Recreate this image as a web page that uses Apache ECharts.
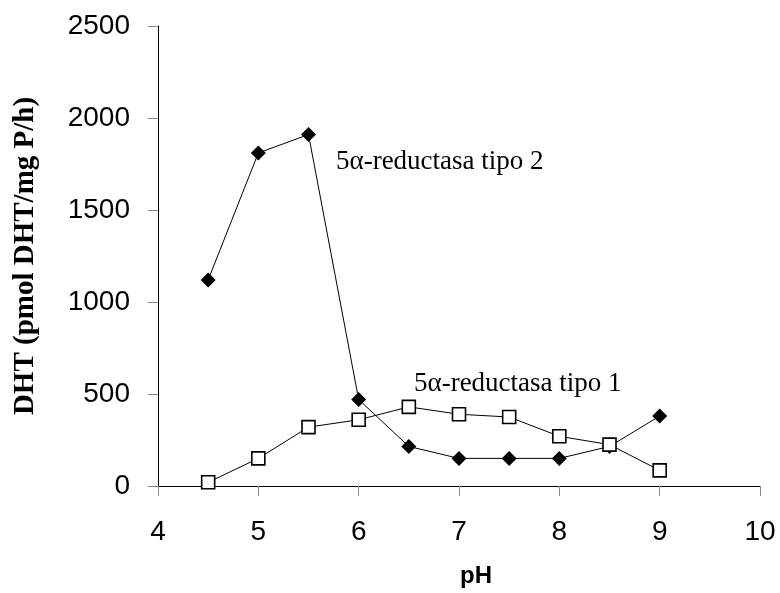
<!DOCTYPE html>
<html>
<head>
<meta charset="utf-8">
<script src="https://cdn.jsdelivr.net/npm/echarts@6/dist/echarts.min.js"></script>
<style>
  html, body { margin: 0; padding: 0; background: #fff; }
  #main { width: 780px; height: 593px; }
</style>
</head>
<body>
<div id="main"></div>
<script>
// pH values sampled
var phValues = [4.5, 5, 5.5, 6, 6.5, 7, 7.5, 8, 8.5, 9];
// DHT, pmol DHT/mg P/h
var tipo1 = [20, 150, 320, 360, 430, 390, 375, 270, 225, 85];
var tipo2 = [1120, 1810, 1910, 470, 215, 150, 150, 150, 215, 380];
var xTicks = [4, 5, 6, 7, 8, 9, 10];
var yTicks = [0, 500, 1000, 1500, 2000, 2500];

function pairs(ys) {
	return phValues.map(function (x, i) { return [x, ys[i]]; });
}

var myChart = echarts.init(document.getElementById('main'));

var option = {
	backgroundColor: '#fff',
	animation: false,
	grid: { left: 158, right: 20, top: 26, bottom: 104 },
	xAxis: {
		type: 'value',
		min: xTicks[0],
		max: xTicks[xTicks.length - 1],
		interval: 1,
		name: 'pH',
		nameLocation: 'middle',
		nameGap: 78,
		nameTextStyle: {
			fontFamily: 'Liberation Sans', fontSize: 24, fontWeight: 'bold', color: '#000',
			padding: [0, 0, 0, 34]
		},
		splitLine: { show: false },
		axisLine: { lineStyle: { color: '#000', width: 1 } },
		axisTick: { length: 10, lineStyle: { color: '#888' } },
		axisLabel: { margin: 32, fontFamily: 'Liberation Sans', fontSize: 28, color: '#000' }
	},
	yAxis: {
		type: 'value',
		min: yTicks[0],
		max: yTicks[yTicks.length - 1],
		interval: 500,
		name: 'DHT (pmol DHT/mg P/h)',
		nameLocation: 'middle',
		nameRotate: 90,
		nameGap: 118,
		nameTextStyle: { fontFamily: 'Liberation Serif', fontSize: 29, fontWeight: 'bold', color: '#000' },
		splitLine: { show: false },
		axisLine: { show: true, lineStyle: { color: '#000', width: 1 } },
		axisTick: { show: true, length: 10, lineStyle: { color: '#888' } },
		axisLabel: {
			margin: 28, fontFamily: 'Liberation Sans', fontSize: 28, color: '#000',
			formatter: function (v) { return String(v); }
		}
	},
	series: [
		{
			name: '5α-reductasa tipo 2',
			type: 'line',
			data: pairs(tipo2),
			symbol: 'diamond',
			symbolSize: 15,
			itemStyle: { color: '#000' },
			lineStyle: { color: '#000', width: 1 },
			z: 2
		},
		{
			name: '5α-reductasa tipo 1',
			type: 'line',
			data: pairs(tipo1),
			symbol: 'rect',
			symbolSize: 13,
			itemStyle: { color: '#fff', borderColor: '#000', borderWidth: 1.6 },
			lineStyle: { color: '#000', width: 1 },
			z: 3
		}
	],
	graphic: [
		{
			type: 'text', left: 336, top: 148,
			style: { text: '5α-reductasa tipo 2', fontFamily: 'Liberation Serif', fontSize: 27, fill: '#000' }
		},
		{
			type: 'text', left: 414, top: 370,
			style: { text: '5α-reductasa tipo 1', fontFamily: 'Liberation Serif', fontSize: 27, fill: '#000' }
		}
	]
};

myChart.setOption(option);
</script>
</body>
</html>
